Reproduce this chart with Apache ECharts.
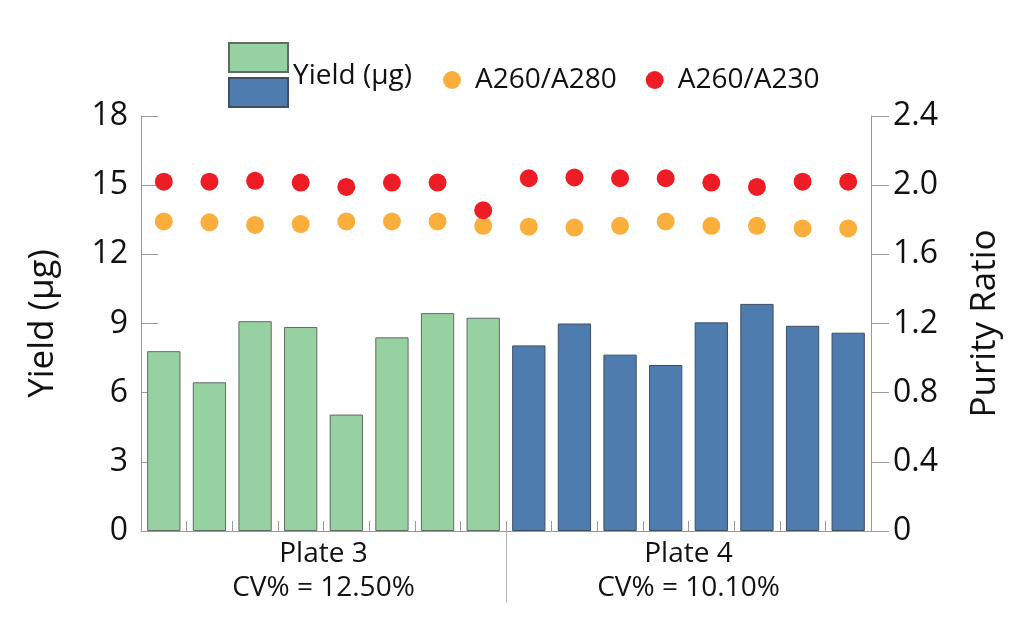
<!DOCTYPE html>
<html>
<head>
<meta charset="utf-8">
<script src="https://cdn.jsdelivr.net/npm/echarts@6/dist/echarts.min.js"></script>
<style>html,body{margin:0;padding:0;background:#fff}#c{width:1024px;height:636px}</style>
</head>
<body>
<div id="c"></div>
<script>
var wells = ['1','2','3','4','5','6','7','8','9','10','11','12','13','14','15','16'];
var plateLabels = ['Plate 3\nCV% = 12.50%', 'Plate 4\nCV% = 10.10%'];
var plate3Yield = [7.8, 6.45, 9.1, 8.85, 5.05, 8.4, 9.45, 9.25];
var plate4Yield = [8.05, 9.0, 7.65, 7.2, 9.05, 9.85, 8.9, 8.6];
var a260a280 = [1.79, 1.785, 1.77, 1.775, 1.79, 1.79, 1.79, 1.765, 1.76, 1.755, 1.765, 1.79, 1.765, 1.765, 1.75, 1.75];
var a260a230 = [2.02, 2.02, 2.025, 2.015, 1.99, 2.015, 2.015, 1.855, 2.04, 2.045, 2.04, 2.04, 2.015, 1.99, 2.02, 2.02];
var yieldTicks = [0, 3, 6, 9, 12, 15, 18];
var purityTicks = [0, 0.4, 0.8, 1.2, 1.6, 2.0, 2.4];

var green = '#97D1A1', blue = '#4E7CAE', orange = '#FAAE3C', red = '#EE1C25';
var axisGrey = '#999999';
var FONT = 'Open Sans';

var plate3Series = plate3Yield.concat(plate4Yield.map(function(){return '-';}));
var plate4Series = plate3Yield.map(function(){return '-';}).concat(plate4Yield);

var chart = echarts.init(document.getElementById('c'), null, {renderer: 'canvas'});
chart.setOption({
  animation: false,
  backgroundColor: '#fff',
  textStyle: {fontFamily: FONT, color: '#111'},
  grid: {left: 141, right: 153, top: 116, bottom: 105, containLabel: false},
  legend: [
    {left: 228, top: 42, padding: 0, itemWidth: 59, itemHeight: 29, icon: 'rect', data: ['Yield (µg)'],
     selectedMode: false,
     formatter: function(n){ return '{t|' + n + '}'; },
     textStyle: {fontFamily: FONT, fontSize: 28, color: '#111',
       rich: {t: {fontFamily: FONT, fontSize: 28, color: '#111', padding: [37, 0, 0, 0]}}}},
    {left: 228, top: 77, padding: 0, itemWidth: 59, itemHeight: 29, icon: 'rect', data: ['Plate 4 yield'],
     selectedMode: false, formatter: function(){return '';},
     textStyle: {fontFamily: FONT, fontSize: 28}},
    {left: 443, top: 66, padding: 0, itemWidth: 36, itemHeight: 18, itemGap: 29, icon: 'circle',
     selectedMode: false, data: ['A260/A280', 'A260/A230'],
     textStyle: {fontFamily: FONT, fontSize: 28, color: '#111'}}
  ],
  xAxis: [
    {type: 'category', data: wells, position: 'bottom',
     axisLine: {lineStyle: {color: axisGrey, width: 1}},
     axisTick: {show: true, inside: true, length: 10, lineStyle: {color: axisGrey}},
     axisLabel: {show: false}, splitLine: {show: false}},
    {type: 'value', min: 0, max: 16, position: 'bottom',
     axisLine: {show: false}, splitLine: {show: false},
     axisTick: {show: true, inside: false, length: 72, customValues: [8], lineStyle: {color: '#b5b5b5', width: 1}},
     axisLabel: {show: true, customValues: [4, 12], margin: 6, fontFamily: FONT, fontSize: 28, lineHeight: 34, color: '#111',
       formatter: function(v){ return v < 8 ? plateLabels[0] : plateLabels[1]; }}}
  ],
  yAxis: [
    {type: 'value', min: 0, max: 18, interval: 3, position: 'left',
     name: 'Yield (µg)', nameLocation: 'middle', nameGap: 80, nameRotate: 90,
     nameTextStyle: {fontFamily: FONT, fontSize: 35, color: '#111'},
     axisLine: {show: true, lineStyle: {color: axisGrey}},
     axisTick: {show: true, inside: true, length: 17, lineStyle: {color: axisGrey}},
     axisLabel: {margin: 13, fontFamily: FONT, fontSize: 32, color: '#111',
       customValues: yieldTicks},
     splitLine: {show: false}},
    {type: 'value', min: 0, max: 2.4, interval: 0.4, position: 'right',
     name: 'Purity Ratio', nameLocation: 'middle', nameGap: 97, nameRotate: 90,
     nameTextStyle: {fontFamily: FONT, fontSize: 35, color: '#111'},
     axisLine: {show: true, lineStyle: {color: axisGrey}},
     axisTick: {show: true, inside: false, length: 18, lineStyle: {color: axisGrey}},
     axisLabel: {margin: 22, fontFamily: FONT, fontSize: 32, color: '#111',
       customValues: purityTicks,
       formatter: function(v){ return v === 0 ? '0' : v.toFixed(1); }},
     splitLine: {show: false}}
  ],
  series: [
    {name: 'Yield (µg)', type: 'bar', xAxisIndex: 0, yAxisIndex: 0, data: plate3Series,
     barGap: '-100%', barCategoryGap: '27%',
     itemStyle: {color: green, borderColor: '#5f6b63', borderWidth: 1}},
    {name: 'Plate 4 yield', type: 'bar', xAxisIndex: 0, yAxisIndex: 0, data: plate4Series,
     barGap: '-100%', barCategoryGap: '27%',
     itemStyle: {color: blue, borderColor: '#3f4f60', borderWidth: 1}},
    {name: 'A260/A280', type: 'scatter', xAxisIndex: 0, yAxisIndex: 1, data: a260a280,
     symbol: 'circle', symbolSize: 18, itemStyle: {color: orange, opacity: 1}},
    {name: 'A260/A230', type: 'scatter', xAxisIndex: 0, yAxisIndex: 1, data: a260a230,
     symbol: 'circle', symbolSize: 18, itemStyle: {color: red, opacity: 1}}
  ]
});
</script>
</body>
</html>
